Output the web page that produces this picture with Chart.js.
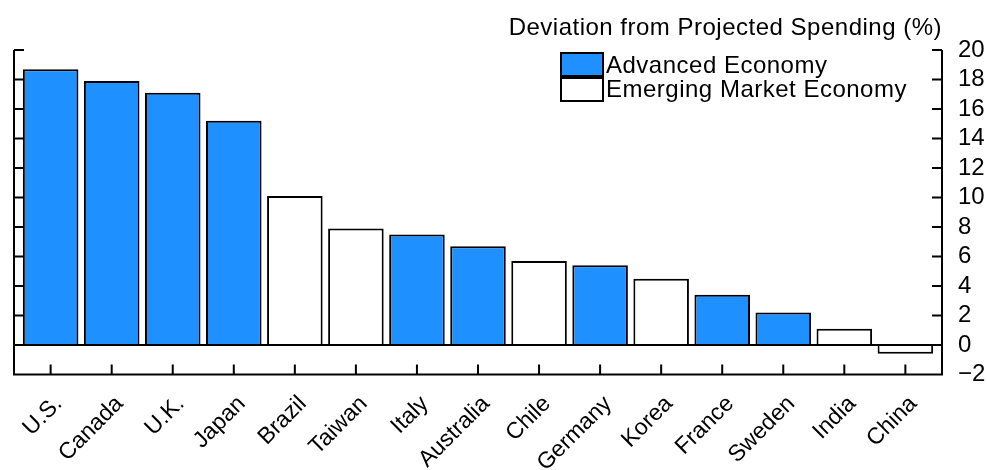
<!DOCTYPE html>
<html><head><meta charset="utf-8">
<script src="https://cdn.jsdelivr.net/npm/chart.js@4/dist/chart.umd.min.js"></script>
<style>html,body{margin:0;padding:0;background:#fff;overflow:hidden}</style>
</head><body>
<canvas id="c" width="987" height="470" style="width:987px;height:470px;display:block"></canvas>
<script>
const countries = ['U.S.','Canada','U.K.','Japan','Brazil','Taiwan','Italy','Australia','Chile','Germany','Korea','France','Sweden','India','China'];
const deviation = [18.7,17.9,17.1,15.2,10.1,7.9,7.5,6.7,5.7,5.4,4.5,3.4,2.2,1.1,-0.6];
const economyType = ['A','A','A','A','E','E','A','A','E','A','E','A','A','E','E'];
const seriesKeys = ['A','E'];
const seriesNames = ['Advanced Economy','Emerging Market Economy'];
const seriesColors = ['#1E90FF','#FFFFFF'];
const yTicks = [-2,0,2,4,6,8,10,12,14,16,18,20];
const chartTitle = 'Deviation from Projected Spending (%)';

const FONT = "'Liberation Sans', Arial, sans-serif";
const FSIZE = 24;

const datasets = seriesKeys.map((k, si) => ({
  label: seriesNames[si],
  backgroundColor: seriesColors[si],
  borderColor: '#000',
  borderWidth: 2,
  data: countries.map((c, i) => economyType[i] === k ? {x: i, y: deviation[i]} : null).filter(d => d)
}));

const framePlugin = {
  id: 'frame',
  afterDraw(chart) {
    const ctx = chart.ctx, a = chart.chartArea;
    const xs = chart.scales.x, ys = chart.scales.y;
    const L = a.left, R = a.right, B = a.bottom, T = ys.getPixelForValue(yTicks[yTicks.length-1]);
    ctx.save();
    ctx.strokeStyle = '#000';
    ctx.lineWidth = 2;
    ctx.lineCap = 'butt';
    ctx.beginPath();
    ctx.moveTo(L, T); ctx.lineTo(L, B); ctx.lineTo(R, B); ctx.lineTo(R, T);
    const z = ys.getPixelForValue(0);
    ctx.moveTo(L, z); ctx.lineTo(R, z);
    yTicks.forEach(v => {
      const p = ys.getPixelForValue(v);
      ctx.moveTo(L, p); ctx.lineTo(L + 10, p);
      ctx.moveTo(R - 10, p); ctx.lineTo(R, p);
    });
    countries.forEach((c, i) => {
      const p = xs.getPixelForValue(i);
      ctx.moveTo(p, B); ctx.lineTo(p, B - 10);
    });
    ctx.stroke();
    // title
    ctx.fillStyle = '#000';
    ctx.font = FSIZE + 'px ' + FONT;
    try { ctx.letterSpacing = '0.5px'; } catch (e) {}
    ctx.textAlign = 'right';
    ctx.textBaseline = 'alphabetic';
    ctx.fillText(chartTitle, R, 35);
    // legend
    const bx = R - 381, bw = 42, bh = 24, by = 53;
    chart.data.datasets.forEach((ds, i) => {
      const y0 = by + i * bh;
      ctx.fillStyle = ds.backgroundColor;
      ctx.fillRect(bx, y0, bw, bh);
      ctx.lineWidth = 2;
      ctx.strokeRect(bx, y0, bw, bh);
      ctx.fillStyle = '#000';
      ctx.textAlign = 'left';
      ctx.textBaseline = 'alphabetic';
      ctx.fillText(ds.label, bx + 45, y0 + 20);
    });
    ctx.lineWidth = 4;
    ctx.beginPath();
    ctx.moveTo(bx, by + bh); ctx.lineTo(bx + bw, by + bh);
    ctx.stroke();
    ctx.restore();
  }
};

new Chart(document.getElementById('c'), {
  type: 'bar',
  data: { datasets },
  options: {
    responsive: false,
    animation: false,
    grouped: false,
    categoryPercentage: 1,
    barPercentage: 0.91,
    layout: { padding: { left: 14, top: 50, right: 0, bottom: 0 } },
    plugins: { legend: { display: false }, tooltip: { enabled: false }, title: { display: false } },
    scales: {
      x: {
        type: 'linear',
        offset: false,
        bounds: 'data',
        min: -0.6,
        max: 14.6,
        grid: { display: false, drawTicks: false },
        border: { display: false },
        afterBuildTicks: s => { s.ticks = countries.map((c, i) => ({ value: i })); },
        afterFit: s => { s.height = 95.5; },
        ticks: {
          autoSkip: false,
          minRotation: 45,
          maxRotation: 45,
          labelOffset: 8,
          padding: 16,
          color: '#000',
          font: { family: FONT, size: 23 },
          callback: v => countries[v]
        }
      },
      y: {
        position: 'right',
        min: -2,
        max: 20,
        grid: { display: false, drawTicks: false },
        border: { display: false },
        afterBuildTicks: s => { s.ticks = yTicks.map(v => ({ value: v })); },
        afterFit: s => { s.width = 45; },
        ticks: {
          autoSkip: false,
          padding: 16,
          color: '#000',
          font: { family: FONT, size: FSIZE },
          callback: v => String(v).replace('-', '\u2212')
        }
      }
    }
  },
  plugins: [framePlugin]
});
</script>
</body></html>
